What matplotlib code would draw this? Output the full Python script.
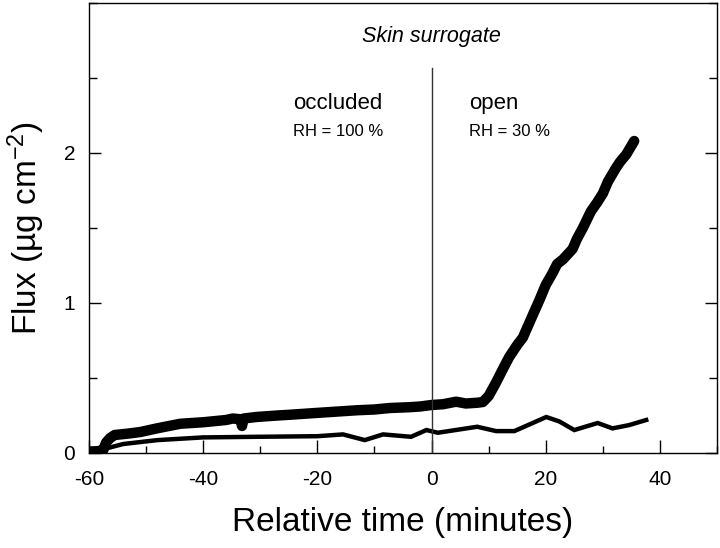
import matplotlib
matplotlib.use("Agg")
import matplotlib.pyplot as plt
from matplotlib.ticker import MultipleLocator

plt.rcParams['font.family'] = ['Liberation Sans', 'DejaVu Sans']
plt.rcParams['mathtext.fontset'] = 'custom'
plt.rcParams['mathtext.rm'] = 'Liberation Sans'
plt.rcParams['mathtext.it'] = 'Liberation Sans:italic'

# Thick curve (skin surrogate flux, measured)
thick_x = [-60, -58.5, -57.5, -57, -56.3, -55.5, -53, -51, -48, -44, -40, -36,
           -34.8, -33.5, -33.2, -32.9, -30.7, -27, -24.8, -21, -19, -15, -13,
           -10, -7.3, -4, -2, 0, 2, 4.3, 6, 8, 9, 10, 11.3, 12.5, 13.6, 15, 16,
           17.5, 18.9, 20, 21.2, 22, 23, 24.7, 25.5, 26.5, 27.9, 29, 30, 30.9,
           32.3, 33, 34.1, 35.5]
thick_y = [0.01, 0.012, 0.02, 0.07, 0.10, 0.12, 0.13, 0.14, 0.165, 0.195, 0.205,
           0.22, 0.23, 0.225, 0.18, 0.23, 0.24, 0.25, 0.255, 0.265, 0.27, 0.28,
           0.285, 0.29, 0.30, 0.305, 0.31, 0.32, 0.325, 0.342, 0.33, 0.335, 0.34,
           0.38, 0.47, 0.56, 0.64, 0.72, 0.77, 0.90, 1.02, 1.12, 1.20, 1.26,
           1.29, 1.36, 1.43, 1.50, 1.61, 1.67, 1.73, 1.81, 1.90, 1.94, 1.99, 2.08]

# Thin curve
thin_x = [-60, -57, -54, -48, -40, -30.7, -20, -15.5, -11.7, -8.5, -3.6, -0.9,
          1.1, 8, 11.3, 14.5, 20.1, 22.4, 25, 29.1, 31.7, 34.6, 37.6]
thin_y = [0.01, 0.03, 0.06, 0.086, 0.104, 0.108, 0.112, 0.124, 0.086, 0.124,
          0.108, 0.153, 0.135, 0.175, 0.146, 0.146, 0.24, 0.21, 0.153, 0.20,
          0.164, 0.186, 0.22]

fig = plt.figure(figsize=(7.2, 5.48), dpi=100)
ax = fig.add_axes([89/720, 1-453/548, (717-89)/720, (453-3)/548])

ax.plot(thin_x, thin_y, color='black', lw=3.2, solid_joinstyle='miter')
ax.plot(thick_x, thick_y, color='black', lw=7.5, solid_capstyle='round',
        solid_joinstyle='round')
ax.plot([0, 0], [0, 2.57], color='#333333', lw=1.0)

ax.set_xlim(-60, 50)
ax.set_ylim(0, 3)
ax.xaxis.set_minor_locator(MultipleLocator(10))
ax.yaxis.set_minor_locator(MultipleLocator(0.5))
ax.set_xticks([-60, -40, -20, 0, 20, 40])
ax.set_xticklabels(['-60', '-40', '-20', '0', '20', '40'])
ax.set_yticks([0, 1, 2])
ax.set_yticklabels(['0', '1', '2'])

ax.tick_params(which='both', direction='in', top=False, right=True,
               labelsize=15, width=1)
ax.tick_params(axis='x', which='major', length=9.5, pad=12)
ax.tick_params(axis='x', which='minor', length=5)
ax.tick_params(axis='y', which='major', length=8.5, pad=10)
ax.tick_params(axis='y', which='minor', length=6)
for s in ax.spines.values():
    s.set_linewidth(1.0)

ax.set_xlabel('Relative time (minutes)', fontsize=24, labelpad=13)
ax.set_ylabel('Flux (µg cm$^{-2}$)', fontsize=24, labelpad=12)

ax.text(0, 2.78, 'Skin surrogate', fontsize=15.5, style='italic',
        ha='center', va='center')
ax.text(-16.5, 2.33, 'occluded', fontsize=16, ha='center', va='center')
ax.text(-24.3, 2.14, 'RH = 100 %', fontsize=12, ha='left', va='center')
ax.text(6.6, 2.33, 'open', fontsize=16, ha='left', va='center')
ax.text(6.6, 2.14, 'RH = 30 %', fontsize=12, ha='left', va='center')

fig.savefig('out.png', dpi=100)
